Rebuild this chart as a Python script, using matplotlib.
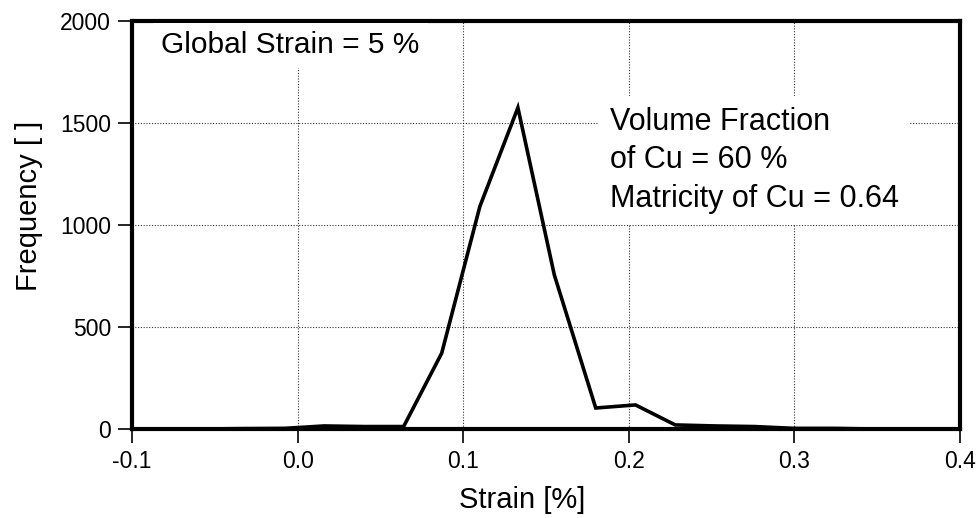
import matplotlib
matplotlib.use("Agg")
import matplotlib.pyplot as plt

# strain bins [%] and frequency
strain = [-0.100, -0.080, -0.056, -0.032, -0.008, 0.016, 0.040, 0.064,
          0.087, 0.110, 0.133, 0.155, 0.180, 0.204, 0.228, 0.252,
          0.276, 0.300, 0.324, 0.348, 0.372, 0.400]
freq = [0, 0, 0, 2, 3, 15, 12, 12,
        372, 1090, 1575, 755, 103, 118, 20, 15,
        12, 3, 3, 0, 0, 0]

xticks = [-0.1, 0.0, 0.1, 0.2, 0.3, 0.4]
xtick_labels = ["-0.1", "0.0", "0.1", "0.2", "0.3", "0.4"]
yticks = [0, 500, 1000, 1500, 2000]

plt.rcParams["font.family"] = ["Liberation Sans", "DejaVu Sans"]

fig = plt.figure(figsize=(9.8, 5.18), dpi=100)
ax = fig.add_axes([0.1347, 0.1718, 0.845, 0.7877])

ax.plot(strain, freq, color="black", lw=2.6, solid_joinstyle="miter", zorder=3, clip_on=False)

ax.set_xlim(-0.1, 0.4)
ax.set_ylim(0, 2000)
ax.set_xticks(xticks)
ax.set_xticklabels(xtick_labels)
ax.set_yticks(yticks)

ax.grid(True, linestyle=(0, (1, 1.5)), color="black", lw=0.8, alpha=0.8)
ax.set_axisbelow(True)

for s in ax.spines.values():
    s.set_linewidth(3)
ax.tick_params(direction="out", length=10, width=1.2, labelsize=16.5, pad=5)

ax.set_xlabel("Strain [%]", fontsize=21)
ax.set_ylabel("Frequency [ ]", fontsize=21)
ax.xaxis.set_label_coords(0.471, -0.14)
ax.yaxis.set_label_coords(-0.108, 0.547)

ax.text(0.035, 0.975, "Global Strain = 5 %", transform=ax.transAxes, fontsize=21.5,
        va="top", ha="left", zorder=4,
        bbox=dict(facecolor="white", edgecolor="none", pad=6))
ax.text(0.577, 0.79, "Volume Fraction\nof Cu = 60 %\nMatricity of Cu = 0.64",
        transform=ax.transAxes, fontsize=22, va="top", ha="left", linespacing=1.38,
        zorder=4, bbox=dict(facecolor="white", edgecolor="none", pad=8))

fig.savefig("out.png", dpi=100)
